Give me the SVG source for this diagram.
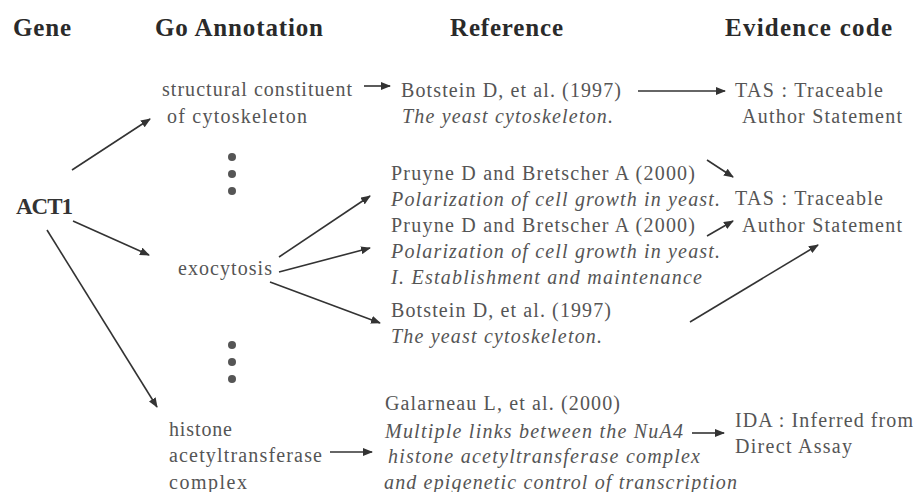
<svg xmlns="http://www.w3.org/2000/svg" width="919" height="492" viewBox="0 0 919 492" font-family="Liberation Serif, DejaVu Serif, serif">
<style>
.h{font-weight:bold;font-size:25px;fill:#2a2a2a}
.t{font-size:20px;fill:#555}
.i{font-size:20px;font-style:italic;fill:#555}
.g{font-weight:bold;font-size:23px;fill:#333}
.c line{stroke:#333;stroke-width:1.6;marker-end:url(#ah)}
.dot{fill:#555}
</style>
<defs>
<marker id="ah" markerUnits="userSpaceOnUse" markerWidth="10" markerHeight="8" refX="9" refY="4" orient="auto">
<path d="M0,0 L10,4 L0,8 z" fill="#333"/>
</marker>
</defs>
<rect width="919" height="492" fill="#fff"/>
<g id="headers">
<text class="h" x="13" y="36" textLength="58">Gene</text>
<text class="h" x="155" y="36" textLength="168">Go Annotation</text>
<text class="h" x="450" y="36" textLength="113">Reference</text>
<text class="h" x="725" y="36" textLength="167">Evidence code</text>
</g>
<g id="gene-act1"><text class="g" x="16" y="214" textLength="57">ACT1</text></g>
<g id="go-structural">
<text class="t" x="162" y="96" textLength="190">structural constituent</text>
<text class="t" x="167" y="123" textLength="140">of cytoskeleton</text>
</g>
<g id="go-exocytosis"><text class="t" x="178" y="275" textLength="94">exocytosis</text></g>
<g id="go-histone">
<text class="t" x="169" y="436" textLength="63">histone</text>
<text class="t" x="169" y="462" textLength="153">acetyltransferase</text>
<text class="t" x="169" y="489" textLength="78">complex</text>
</g>
<g id="dots">
<circle class="dot" cx="232" cy="157" r="4"/><circle class="dot" cx="232" cy="174" r="4"/><circle class="dot" cx="232" cy="191" r="4"/>
<circle class="dot" cx="232" cy="345" r="4"/><circle class="dot" cx="232" cy="362" r="4"/><circle class="dot" cx="232" cy="379" r="4"/>
</g>
<g id="ref-botstein1">
<text class="t" x="401" y="97" textLength="220">Botstein D, et al. (1997)</text>
<text class="i" x="402" y="123" textLength="211">The yeast cytoskeleton.</text>
</g>
<g id="ref-pruyne1">
<text class="t" x="391" y="180" textLength="304">Pruyne D and Bretscher A (2000)</text>
<text class="i" x="391" y="206" textLength="329">Polarization of cell growth in yeast.</text>
</g>
<g id="ref-pruyne2">
<text class="t" x="391" y="232" textLength="304">Pruyne D and Bretscher A (2000)</text>
<text class="i" x="391" y="258" textLength="329">Polarization of cell growth in yeast.</text>
<text class="i" x="391" y="284" textLength="311">I. Establishment and maintenance</text>
</g>
<g id="ref-botstein2">
<text class="t" x="391" y="317" textLength="220">Botstein D, et al. (1997)</text>
<text class="i" x="391" y="343" textLength="211">The yeast cytoskeleton.</text>
</g>
<g id="ref-galarneau">
<text class="t" x="385" y="410" textLength="235">Galarneau L, et al. (2000)</text>
<text class="i" x="385" y="438" textLength="298">Multiple links between the NuA4</text>
<text class="i" x="388" y="463" textLength="312">histone acetyltransferase complex</text>
<text class="i" x="384" y="489" textLength="353">and epigenetic control of transcription</text>
</g>
<g id="ev-tas1">
<text class="t" x="735" y="97" textLength="148">TAS : Traceable</text>
<text class="t" x="742" y="123" textLength="160">Author Statement</text>
</g>
<g id="ev-tas2">
<text class="t" x="735" y="205" textLength="148">TAS : Traceable</text>
<text class="t" x="742" y="232" textLength="160">Author Statement</text>
</g>
<g id="ev-ida">
<text class="t" x="735" y="427" textLength="178">IDA : Inferred from</text>
<text class="t" x="735" y="453" textLength="117">Direct Assay</text>
</g>
<g id="connectors" class="c">
<line x1="72" y1="170" x2="150" y2="119"/>
<line x1="73" y1="221" x2="149" y2="255"/>
<line x1="47" y1="230" x2="157" y2="407"/>
<line x1="364" y1="86" x2="390" y2="86"/>
<line x1="638" y1="91" x2="725" y2="91"/>
<line x1="279" y1="257" x2="370" y2="196"/>
<line x1="279" y1="272" x2="370" y2="248"/>
<line x1="270" y1="282" x2="380" y2="323"/>
<line x1="707" y1="160" x2="733" y2="177"/>
<line x1="707" y1="236" x2="733" y2="221"/>
<line x1="690" y1="322" x2="818" y2="245"/>
<line x1="330" y1="452" x2="372" y2="452"/>
<line x1="692" y1="433" x2="724" y2="433"/>
</g>
</svg>
